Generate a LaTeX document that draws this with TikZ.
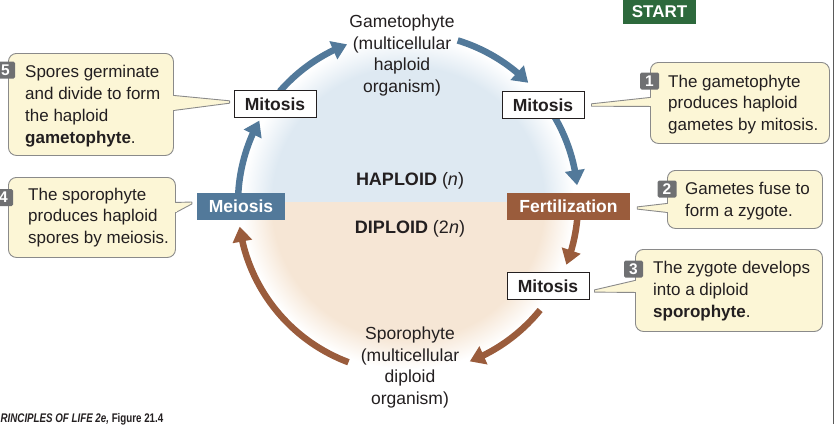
\documentclass[tikz,border=0pt]{standalone}
\usepackage{fontspec}
\setmainfont{Liberation Sans}
\usetikzlibrary{arrows.meta,bending,calc}
\definecolor{txt}{HTML}{231F20}
\definecolor{hapc}{HTML}{DEE9F2}
\definecolor{dipc}{HTML}{F6E6D5}
\definecolor{blu}{HTML}{52799A}
\definecolor{brn}{HTML}{9A5C3C}
\definecolor{grn}{HTML}{2D693C}
\definecolor{yel}{HTML}{FCF6D6}
\definecolor{bord}{HTML}{8A8A8A}
\definecolor{badgec}{HTML}{6F7072}
\definecolor{edgec}{HTML}{5A5A5A}
\pgfdeclareradialshading{hapshade}{\pgfpoint{0bp}{0bp}}{color(0bp)=(hapc); color(20.5bp)=(hapc); color(25bp)=(white); color(50bp)=(white)}
\pgfdeclareradialshading{dipshade}{\pgfpoint{0bp}{0bp}}{color(0bp)=(dipc); color(20.5bp)=(dipc); color(25bp)=(white); color(50bp)=(white)}
\newcommand\fsz[2]{\fontsize{#1}{#2}\selectfont}
\tikzset{
  lbl/.style={font=\fsz{17.5}{21.7}, text=txt, align=center, inner sep=0pt},
  stagebox/.style={draw=txt, line width=0.9pt, fill=white, minimum width=82pt, minimum height=27pt, inner sep=0pt, font=\bfseries\fsz{17.5}{20}, text=txt},
  colbox/.style={minimum height=27pt, inner sep=0pt, font=\bfseries\fsz{17.5}{20}, text=white},
  callout/.style={draw=bord, fill=yel, line width=0.9pt, rounded corners=8pt, inner ysep=0pt, align=left, font=\fsz{17}{21.8}, text=txt},
  ctext/.style={anchor=west, inner sep=0pt, align=left, font=\fsz{17}{21.8}, text=txt},
  badge/.style={fill=badgec, rounded corners=1.5pt, minimum width=19pt, minimum height=17pt, inner sep=0pt, text=white, font=\bfseries\fsz{15.5}{15}},
  wedge/.style={draw=bord, fill=yel, line width=0.9pt, line join=round},
  barrow/.style={draw=blu, line width=6.5pt, -{Triangle[length=15pt,width=19pt]}},
  rarrow/.style={draw=brn, line width=6.5pt, -{Triangle[length=15pt,width=19pt]}}
}
\begin{document}
\begin{tikzpicture}[x=1pt,y=1pt]
\useasboundingbox (0,0) rectangle (836,-424);
\begin{scope}
\clip (0,0) rectangle (836,-424);
\coordinate (c) at (408,-203);
% background halves
\begin{scope}
  \clip (200,-202) rectangle (620,0);
  \shade[shading=hapshade] (c) circle (166);
\end{scope}
\begin{scope}
  \clip (200,-202) rectangle (620,-424);
  \shade[shading=dipshade] (c) circle (166);
\end{scope}
% cycle arrows
\draw[barrow] ([shift={(179:170)}]c) arc[start angle=179, end angle=151, radius=170];
\draw[barrow] ([shift={(139:170)}]c) arc[start angle=139, end angle=111, radius=170];
\draw[barrow] ([shift={(73:170)}]c) arc[start angle=73, end angle=45, radius=170];
\draw[barrow] ([shift={(31:170)}]c) arc[start angle=31, end angle=6, radius=170];
\draw[rarrow] ([shift={(-4:170)}]c) arc[start angle=-4, end angle=-21.3, radius=170];
\draw[rarrow] ([shift={(-39:170)}]c) arc[start angle=-39, end angle=-68.7, radius=170];
\draw[rarrow] ([shift={(249.5:170)}]c) arc[start angle=249.5, end angle=188, radius=170];
% labels
\node[lbl] (gam) at (402,-55.5) {Gametophyte\\(multicellular\\haploid\\organism)};
\node[lbl] (spo) at (410,-367.5) {Sporophyte\\(multicellular\\diploid\\organism)};
\node[lbl, font=\fsz{18}{21}] (hap) at (410,-181) {\textbf{HAPLOID} (\textit{n})};
\node[lbl, font=\fsz{18}{21}] (dip) at (410,-229) {\textbf{DIPLOID} (2\textit{n})};
% stage boxes
\node[stagebox] (mitL) at (275,-104) {Mitosis};
\node[stagebox] (mitR) at (543,-105) {Mitosis};
\node[stagebox] (mitB) at (548,-286) {Mitosis};
\node[colbox, fill=blu, minimum width=88pt] (meio) at (241,-206.5) {Meiosis};
\node[colbox, fill=brn, minimum width=123pt] (fert) at (568.5,-206.5) {Fertilization};
\node[colbox, fill=grn, minimum width=73pt, minimum height=24pt, font=\bfseries\fsz{17}{20}] (start) at (659.5,-12) {START};
% callout boxes
\node[callout, anchor=north west, minimum width=165pt, minimum height=102pt] (b5) at (8,-53) {};
\node[callout, anchor=north west, minimum width=179pt, minimum height=81pt] (b1) at (650,-62) {};
\node[callout, anchor=north west, minimum width=167pt, minimum height=80pt] (b4) at (8,-177) {};
\node[callout, anchor=north west, minimum width=155pt, minimum height=58pt] (b2) at (667,-170) {};
\node[callout, anchor=north west, minimum width=187pt, minimum height=82pt] (b3) at (635,-249) {};
% pointers
\coordinate (t5) at ($(mitL.west)+(-4,2)$);
\filldraw[wedge] ($(b5.east)+(0,9)$) -- ($(t5)+(0,1.2)$) -- ($(t5)+(0,-1.2)$) -- ($(b5.east)+(0,-6)$);
\fill[yel] ($(b5.east)+(-2,8.1)$) rectangle ($(b5.east)+(1,-5.1)$);
\coordinate (t1) at ($(mitR.east)+(7,0)$);
\filldraw[wedge] ($(b1.west)+(0,5.5)$) -- ($(t1)+(0,1.2)$) -- ($(t1)+(0,-1.2)$) -- ($(b1.west)+(0,-3.5)$);
\fill[yel] ($(b1.west)+(-1,4.6)$) rectangle ($(b1.west)+(2,-2.6)$);
\coordinate (t4) at ($(meio.west)+(-5,3.5)$);
\filldraw[wedge] ($(b4.east)+(0,15)$) -- ($(t4)+(0,1.0)$) -- ($(t4)+(0,-1.0)$) -- ($(b4.east)+(0,5)$);
\fill[yel] ($(b4.east)+(-2,14.1)$) rectangle ($(b4.east)+(1,5.9)$);
\coordinate (t2) at ($(fert.east)+(7,-1.5)$);
\filldraw[wedge] ($(b2.west)+(0,-4)$) -- ($(t2)+(0,1.1)$) -- ($(t2)+(0,-1.1)$) -- ($(b2.west)+(0,-13)$);
\fill[yel] ($(b2.west)+(-1,-4.9)$) rectangle ($(b2.west)+(2,-12.1)$);
\coordinate (t3) at ($(mitB.east)+(5,-5)$);
\filldraw[wedge] ($(b3.west)+(0,10)$) -- ($(t3)+(0,1.1)$) -- ($(t3)+(0,-1.1)$) -- ($(b3.west)+(0,-2)$);
\fill[yel] ($(b3.west)+(-1,9.1)$) rectangle ($(b3.west)+(2,-1.1)$);
% callout texts
\node[ctext] (x5) at (25,-106) {Spores germinate\\and divide to form\\the haploid\\\textbf{gametophyte}.};
\node[ctext] (x1) at (668,-104.5) {The gametophyte\\produces haploid\\gametes by mitosis.};
\node[ctext] (x4) at (28,-217.5) {The sporophyte\\produces haploid\\spores by meiosis.};
\node[ctext] (x2) at (685,-201) {Gametes fuse to\\form a zygote.};
\node[ctext] (x3) at (653,-291) {The zygote develops\\into a diploid\\\textbf{sporophyte}.};
% badges
\node[badge] (n5) at (5.5,-70) {5};
\node[badge] (n1) at (649.5,-81) {1};
\node[badge] (n4) at (3.5,-197.5) {4};
\node[badge] (n2) at (667,-189) {2};
\node[badge] (n3) at (633.5,-269) {3};
% right edge rule
\draw[edgec, line width=1.2pt] (833.5,0) -- (833.5,-424);
% caption
\node[anchor=base west, inner sep=0pt, text=txt, font=\bfseries\fsz{12.5}{13}] (cap) at (0.5,-422)
  {\scalebox{0.78}[1]{\textit{RINCIPLES OF LIFE 2e,} Figure 21.4}};
\end{scope}
\end{tikzpicture}
\end{document}
